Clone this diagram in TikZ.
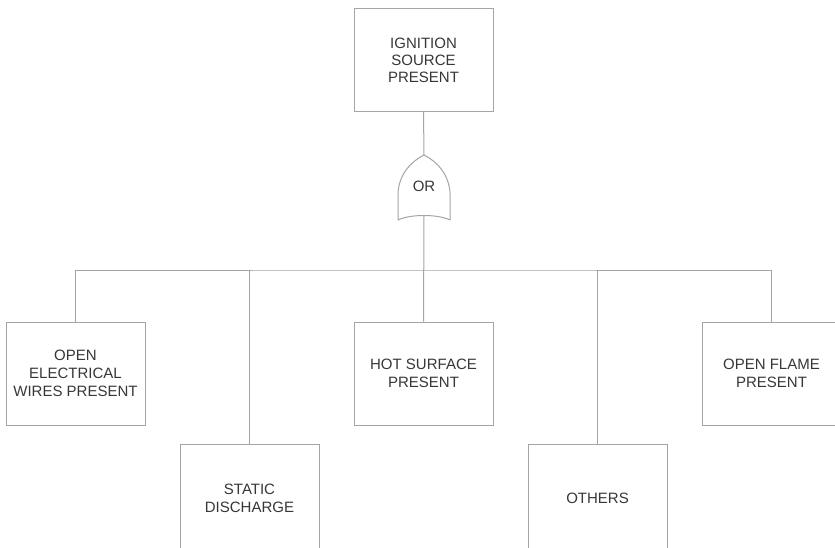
\documentclass[tikz,border=0pt]{standalone}
\usepackage{fontspec}
\setmainfont{Liberation Sans}
\definecolor{edge}{RGB}{165,165,165}
\definecolor{ink}{RGB}{55,55,55}
\begin{document}
\begin{tikzpicture}[x=1pt,y=-1pt,
  label font/.style={text=ink, font=\fontsize{15}{18}\selectfont},
  event/.style={draw=edge, line width=1pt, fill=white, minimum width=139pt,
    minimum height=103pt, align=center, inner sep=0pt, label font},
  low event/.style={event, minimum height=108pt},
  wire/.style={draw=edge, line width=1pt}]
\clip (0,0) rectangle (835,548);
\fill[white] (0,0) rectangle (835,548);

% top event
\node[event, font=\fontsize{15}{17}\selectfont] (top) at (423.5,60) {IGNITION\\SOURCE\\PRESENT};

% OR gate
\node[label font] (gate) at (424,186) {OR};
\coordinate (gtop) at (424,155);
\coordinate (gbot) at (424,215);
\draw[wire, line join=round]
  (gtop) .. controls (410,162) and (399,175) .. (398,193) -- (398,220)
  .. controls (410,214) and (438,214) .. (450,220) -- (450,193)
  .. controls (449,175) and (438,162) .. (gtop);

% basic events
\node[event] (elec)   at (75.5,373.5)  {OPEN\\ELECTRICAL\\WIRES PRESENT};
\node[low event] (static) at (249.5,498) {STATIC\\DISCHARGE};
\node[event] (hot)    at (423.5,373.5) {HOT SURFACE\\PRESENT};
\node[low event] (others) at (597.5,498) {OTHERS};
\node[event] (flame)  at (771.5,373.5) {OPEN FLAME\\PRESENT};

% connectors
\coordinate (bus) at (424,270);
\draw[wire] (top.south) -- (gtop);
\draw[wire] (gbot) -- (hot.north);
\draw[wire] (elec.north) |- (bus) -| (flame.north);
\draw[wire] (static.north) -- (static.north |- bus);
\draw[wire] (others.north) -- (others.north |- bus);
\end{tikzpicture}
\end{document}
